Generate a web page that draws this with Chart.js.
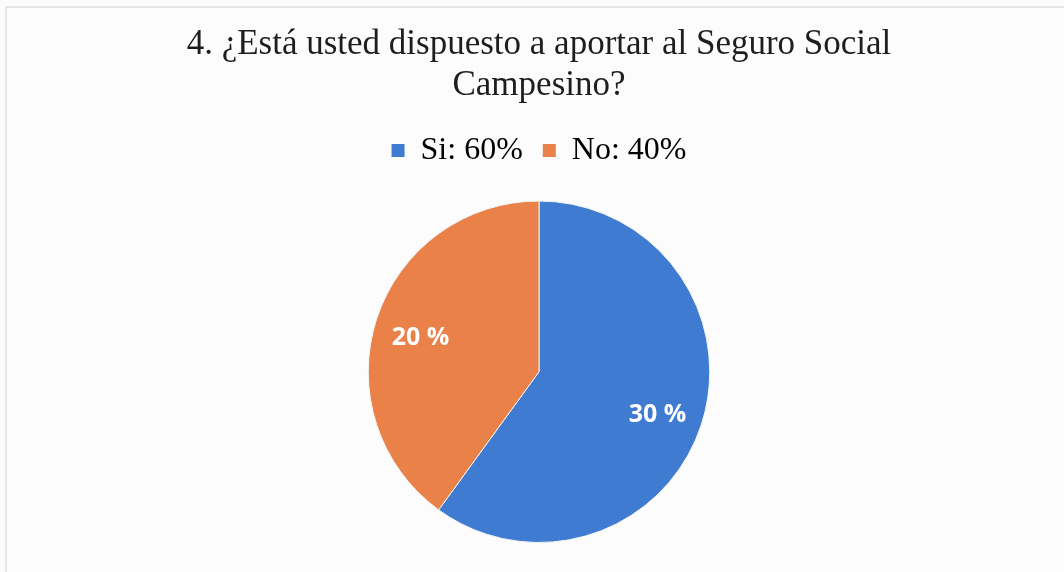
<!DOCTYPE html>
<html>
<head>
<meta charset="utf-8">
<script src="https://cdn.jsdelivr.net/npm/chart.js@4"></script>
<style>
  html, body { margin: 0; padding: 0; background: #fcfcfc; }
  #wrap { position: relative; width: 1064px; height: 572px; }
  #frame { position: absolute; left: 5px; top: 6px; right: -2px; bottom: -2px; border-top: 2px solid #e6e6e6; border-left: 2px solid #e6e6e6; }
</style>
</head>
<body>
<div id="wrap">
  <div id="frame"></div>
  <canvas id="chart" width="1064" height="572"></canvas>
</div>
<script>
// datos del gráfico
const categorias = ['Si', 'No'];
const valores = [30, 20];
const colores = ['#3f7bd0', '#e98148'];
const titulo = ['4. ¿Está usted dispuesto a aportar al Seguro Social', 'Campesino?'];

const total = valores.reduce((a, b) => a + b, 0);

// espacio extra debajo de la leyenda
const espacioLeyenda = {
  id: 'espacioLeyenda',
  beforeInit(chart) {
    const fitOriginal = chart.legend.fit;
    chart.legend.fit = function () {
      fitOriginal.bind(chart.legend)();
      this.height += 24;
    };
  }
};

// etiquetas dentro de cada porción
const etiquetasPlugin = {
  id: 'etiquetas',
  afterDatasetsDraw(chart) {
    const ctx = chart.ctx;
    const meta = chart.getDatasetMeta(0);
    ctx.save();
    ctx.font = 'bold 25px "Open Sans", "Liberation Sans", sans-serif';
    ctx.fillStyle = '#ffffff';
    ctx.textAlign = 'center';
    ctx.textBaseline = 'middle';
    meta.data.forEach((arc, i) => {
      const p = arc.getProps(['x', 'y', 'startAngle', 'endAngle', 'outerRadius'], true);
      const mid = (p.startAngle + p.endAngle) / 2;
      const r = p.outerRadius * 0.73;
      ctx.fillText(valores[i] + ' %', p.x + Math.cos(mid) * r, p.y + Math.sin(mid) * r + 5);
    });
    ctx.restore();
  }
};

new Chart(document.getElementById('chart').getContext('2d'), {
  type: 'pie',
  data: {
    labels: categorias,
    datasets: [{
      data: valores,
      backgroundColor: colores,
      borderColor: '#f4f4f4',
      borderWidth: 1
    }]
  },
  options: {
    responsive: false,
    animation: false,
    layout: { padding: { top: 8, bottom: 29, left: 14 } },
    plugins: {
      title: {
        display: true,
        text: titulo,
        color: '#1e1e1e',
        font: { family: '"Liberation Serif", "DejaVu Serif", serif', size: 35, weight: 'normal', lineHeight: 1.15 },
        padding: { top: 17, bottom: 9 }
      },
      legend: {
        display: true,
        position: 'top',
        labels: {
          color: '#333',
          boxWidth: 13,
          boxHeight: 13,
          padding: 20,
          font: { family: '"Liberation Serif", "DejaVu Serif", serif', size: 32 },
          generateLabels(chart) {
            return categorias.map((c, i) => ({
              text: c + ': ' + Math.round(valores[i] / total * 100) + '%',
              fillStyle: colores[i],
              strokeStyle: colores[i],
              lineWidth: 0,
              index: i
            }));
          }
        }
      },
      tooltip: { enabled: false }
    }
  },
  plugins: [espacioLeyenda, etiquetasPlugin]
});
</script>
</body>
</html>
